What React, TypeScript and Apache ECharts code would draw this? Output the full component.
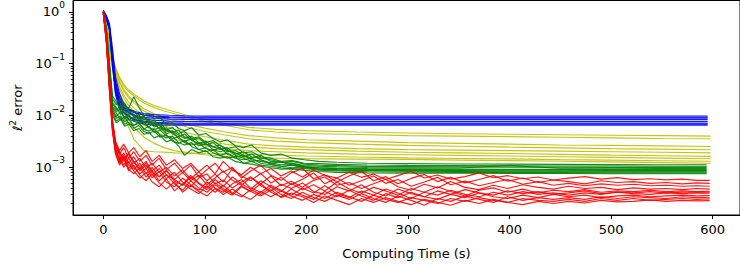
import React, { useEffect, useRef } from "react";
import * as echarts from "echarts";

// ---------- axis ticks ----------
const X_TICKS = [0, 100, 200, 300, 400, 500, 600];
const Y_MAJOR = [1e-3, 1e-2, 1e-1, 1];
const Y_MINOR = [
  2e-4, 3e-4, 4e-4, 5e-4, 6e-4, 7e-4, 8e-4, 9e-4,
  2e-3, 3e-3, 4e-3, 5e-3, 6e-3, 7e-3, 8e-3, 9e-3,
  2e-2, 3e-2, 4e-2, 5e-2, 6e-2, 7e-2, 8e-2, 9e-2,
  0.2, 0.3, 0.4, 0.5, 0.6, 0.7, 0.8, 0.9,
];

// ---------- blue runs ----------
const BLUE_T = [0, 3, 6, 9, 12, 16, 20, 26, 32, 40, 50, 65, 80, 100, 150, 250, 400, 595];
const BLUE_RUNS = [
  [1.05, 0.82, 0.55, 0.16, 0.045, 0.022, 0.016, 0.013, 0.0118, 0.0109, 0.0104, 0.0101, 0.0099, 0.0098, 0.0098, 0.0098, 0.0098, 0.0098],
  [1.0, 0.78, 0.5, 0.12, 0.035, 0.019, 0.0145, 0.0123, 0.0111, 0.0102, 0.0097, 0.0094, 0.0093, 0.0093, 0.0093, 0.0093, 0.0093, 0.0093],
  [1.08, 0.85, 0.6, 0.2, 0.055, 0.026, 0.017, 0.013, 0.0112, 0.0101, 0.0094, 0.0091, 0.009, 0.0089, 0.0089, 0.0089, 0.0089, 0.0089],
  [0.98, 0.75, 0.45, 0.1, 0.03, 0.017, 0.013, 0.0111, 0.01, 0.0092, 0.0088, 0.0085, 0.0084, 0.0083, 0.0083, 0.0083, 0.0083, 0.0083],
  [1.02, 0.8, 0.52, 0.14, 0.04, 0.02, 0.014, 0.0108, 0.0094, 0.0085, 0.0081, 0.0078, 0.0077, 0.0076, 0.0076, 0.0076, 0.0076, 0.0076],
  [1.04, 0.8, 0.5, 0.13, 0.032, 0.016, 0.0117, 0.0094, 0.0083, 0.0077, 0.0074, 0.0072, 0.0071, 0.0071, 0.0071, 0.0071, 0.0071, 0.0071],
  [1.0, 0.76, 0.48, 0.11, 0.028, 0.015, 0.0112, 0.0092, 0.0081, 0.0074, 0.0071, 0.0069, 0.0068, 0.0068, 0.0068, 0.0068, 0.0068, 0.0068],
  [0.97, 0.72, 0.44, 0.09, 0.025, 0.013, 0.0098, 0.0084, 0.0075, 0.0069, 0.0066, 0.0065, 0.0065, 0.0065, 0.0065, 0.0065, 0.0065, 0.0065],
];

// ---------- yellow runs ----------
const YELLOW_T = [0, 3, 6, 9, 12, 16, 20, 25, 30, 40, 50, 60, 70, 85, 100, 120, 143, 170, 200, 250, 300, 350, 400, 450, 500, 550, 598];
const YELLOW_RUNS = [
  [1.0, 0.6, 0.3, 0.14, 0.085, 0.055, 0.04, 0.031, 0.026, 0.019, 0.0155, 0.0135, 0.0118, 0.0098, 0.0084, 0.007, 0.0059, 0.0054, 0.0051, 0.0048, 0.0046, 0.00445, 0.00435, 0.00425, 0.00415, 0.00408, 0.004],
  [1.0, 0.55, 0.27, 0.13, 0.08, 0.051, 0.037, 0.029, 0.024, 0.0175, 0.0142, 0.0122, 0.0108, 0.009, 0.0077, 0.0064, 0.0053, 0.0048, 0.0045, 0.0043, 0.0041, 0.004, 0.0039, 0.0038, 0.0037, 0.0036, 0.00356],
  [1.0, 0.5, 0.24, 0.12, 0.072, 0.045, 0.032, 0.024, 0.019, 0.0135, 0.0108, 0.0091, 0.008, 0.0066, 0.0057, 0.0048, 0.0041, 0.0037, 0.0034, 0.0032, 0.003, 0.0029, 0.0028, 0.0027, 0.00265, 0.0026, 0.00252],
  [1.0, 0.52, 0.25, 0.115, 0.068, 0.042, 0.03, 0.022, 0.0175, 0.0122, 0.0097, 0.0081, 0.007, 0.0058, 0.0049, 0.0042, 0.00355, 0.0032, 0.003, 0.0028, 0.00265, 0.00255, 0.00245, 0.00237, 0.0023, 0.00224, 0.00218],
  [1.0, 0.48, 0.22, 0.105, 0.06, 0.036, 0.025, 0.018, 0.014, 0.0096, 0.0076, 0.0063, 0.0054, 0.0045, 0.0039, 0.0033, 0.0028, 0.0026, 0.00245, 0.0023, 0.0022, 0.00215, 0.0021, 0.00205, 0.002, 0.00195, 0.0019],
  [1.0, 0.5, 0.23, 0.1, 0.055, 0.032, 0.022, 0.0155, 0.012, 0.0082, 0.0064, 0.0053, 0.0045, 0.0037, 0.0032, 0.0028, 0.00245, 0.0023, 0.0022, 0.00205, 0.00195, 0.0019, 0.00185, 0.00178, 0.00172, 0.00167, 0.00162],
  [1.0, 0.46, 0.2, 0.09, 0.048, 0.027, 0.018, 0.0125, 0.0095, 0.0065, 0.005, 0.0041, 0.0035, 0.0029, 0.0026, 0.0023, 0.0021, 0.002, 0.0019, 0.0018, 0.00175, 0.0017, 0.00165, 0.0016, 0.00155, 0.0015, 0.00146],
  [1.0, 0.45, 0.2, 0.08, 0.035, 0.016, 0.0095, 0.006, 0.0035, 0.0021, 0.002, 0.00196, 0.0019, 0.00188, 0.00185, 0.00182, 0.0018, 0.00172, 0.00165, 0.00158, 0.00152, 0.00148, 0.00145, 0.00141, 0.00138, 0.00134, 0.00131],
  [1.0, 0.45, 0.19, 0.085, 0.042, 0.022, 0.0135, 0.0085, 0.006, 0.0038, 0.0029, 0.0024, 0.0021, 0.0019, 0.00175, 0.00163, 0.00155, 0.0015, 0.00147, 0.00144, 0.00142, 0.00138, 0.00135, 0.00131, 0.00127, 0.00123, 0.0012],
];

// ---------- green runs ----------
const GREEN_T = [0, 3, 6, 9, 13, 17, 21, 25, 30, 35, 40, 45, 50, 56, 62, 68, 74, 80, 87, 94, 101, 108, 115, 122, 130, 138, 146, 155, 165, 175, 186, 198, 212, 230, 260, 300, 350, 400, 450, 500, 550, 594];
const GREEN_RUNS = [
  [1.05, 0.5, 0.1, 0.021, 0.016, 0.022, 0.015, 0.014, 0.023, 0.0145, 0.0098, 0.011, 0.0085, 0.0092, 0.0066, 0.0072, 0.0056, 0.0051, 0.0058, 0.0042, 0.0045, 0.0036, 0.0031, 0.0034, 0.0026, 0.0024, 0.0027, 0.0019, 0.0017, 0.0018, 0.0015, 0.0014, 0.0013, 0.00125, 0.0012, 0.00118, 0.00116, 0.00115, 0.00114, 0.00113, 0.00112, 0.00112],
  [0.95, 0.42, 0.075, 0.015, 0.012, 0.0135, 0.0175, 0.011, 0.0125, 0.0088, 0.0098, 0.0074, 0.0081, 0.0062, 0.0052, 0.0059, 0.0045, 0.0049, 0.0036, 0.0039, 0.003, 0.0033, 0.0026, 0.0023, 0.0025, 0.0019, 0.002, 0.0016, 0.0015, 0.0013, 0.00135, 0.0012, 0.00118, 0.00114, 0.00111, 0.00109, 0.00108, 0.00107, 0.00106, 0.00106, 0.00105, 0.00105],
  [1.0, 0.38, 0.06, 0.013, 0.0095, 0.012, 0.0085, 0.0105, 0.0078, 0.0092, 0.0068, 0.0061, 0.0072, 0.0053, 0.0058, 0.0044, 0.0039, 0.0044, 0.0033, 0.0029, 0.0032, 0.0025, 0.0022, 0.0024, 0.0018, 0.002, 0.0016, 0.0015, 0.0014, 0.00125, 0.0013, 0.00115, 0.0011, 0.00108, 0.00104, 0.00103, 0.00102, 0.00101, 0.00101, 0.001, 0.001, 0.001],
  [0.9, 0.45, 0.09, 0.018, 0.014, 0.0105, 0.013, 0.0095, 0.0088, 0.0105, 0.0072, 0.0081, 0.006, 0.0066, 0.0048, 0.0051, 0.0042, 0.0036, 0.004, 0.003, 0.0027, 0.003, 0.0023, 0.002, 0.0021, 0.0017, 0.0015, 0.0017, 0.0013, 0.00125, 0.0012, 0.00108, 0.00105, 0.00102, 0.00099, 0.00098, 0.00097, 0.00108, 0.00096, 0.00096, 0.00095, 0.00095],
  [1.0, 0.4, 0.07, 0.012, 0.0088, 0.0098, 0.0076, 0.0085, 0.0065, 0.0071, 0.0055, 0.0062, 0.0047, 0.0052, 0.0041, 0.0036, 0.0039, 0.003, 0.0027, 0.0029, 0.0023, 0.0021, 0.0024, 0.0018, 0.0016, 0.0017, 0.0014, 0.0013, 0.00122, 0.00112, 0.00118, 0.00103, 0.00099, 0.00096, 0.00094, 0.00093, 0.00092, 0.00091, 0.00091, 0.0009, 0.0009, 0.0009],
  [0.92, 0.48, 0.11, 0.024, 0.018, 0.013, 0.016, 0.012, 0.0105, 0.0082, 0.0093, 0.0069, 0.0064, 0.0071, 0.0053, 0.0047, 0.0052, 0.0038, 0.0034, 0.0037, 0.0028, 0.0025, 0.0027, 0.0021, 0.0019, 0.0016, 0.0018, 0.0014, 0.0012, 0.00128, 0.0011, 0.00102, 0.00097, 0.00094, 0.00091, 0.0009, 0.00089, 0.00088, 0.00088, 0.00087, 0.00087, 0.00087],
  [1.0, 0.36, 0.055, 0.011, 0.0078, 0.0092, 0.0068, 0.0074, 0.0057, 0.0064, 0.0049, 0.0045, 0.005, 0.0038, 0.0042, 0.0032, 0.0029, 0.0033, 0.0025, 0.0022, 0.0024, 0.0019, 0.0017, 0.0019, 0.0015, 0.0014, 0.0015, 0.0012, 0.00112, 0.00105, 0.0011, 0.00097, 0.00093, 0.0009, 0.00088, 0.00087, 0.00086, 0.00085, 0.00085, 0.00084, 0.00084, 0.00084],
  [0.97, 0.44, 0.085, 0.017, 0.013, 0.0155, 0.011, 0.0082, 0.0095, 0.0068, 0.0076, 0.0058, 0.0053, 0.0059, 0.0044, 0.0049, 0.0036, 0.0032, 0.0035, 0.0026, 0.0029, 0.0022, 0.002, 0.0022, 0.0017, 0.0015, 0.0013, 0.0014, 0.00115, 0.00105, 0.00098, 0.00102, 0.00092, 0.00088, 0.00086, 0.00084, 0.00083, 0.00082, 0.00082, 0.00081, 0.00081, 0.00081],
  [1.0, 0.4, 0.065, 0.014, 0.011, 0.0082, 0.0095, 0.0071, 0.0064, 0.0075, 0.0054, 0.005, 0.0056, 0.0042, 0.0037, 0.004, 0.003, 0.0027, 0.003, 0.0022, 0.002, 0.0022, 0.0017, 0.0015, 0.0016, 0.0012, 0.0013, 0.0011, 0.00105, 0.00098, 0.00092, 0.00095, 0.00088, 0.00085, 0.00082, 0.00081, 0.0008, 0.00079, 0.00079, 0.00078, 0.00078, 0.00078],
  [0.93, 0.35, 0.05, 0.01, 0.0072, 0.0085, 0.0062, 0.0068, 0.0051, 0.0056, 0.0043, 0.0047, 0.0037, 0.0041, 0.0031, 0.0034, 0.0026, 0.0017, 0.0022, 0.0019, 0.0021, 0.0016, 0.0015, 0.0016, 0.0013, 0.0012, 0.00115, 0.00105, 0.00098, 0.00092, 0.00094, 0.00087, 0.00083, 0.0008, 0.00078, 0.00077, 0.00077, 0.00076, 0.00076, 0.00075, 0.00075, 0.00075],
];

// ---------- red runs ----------
const RED_T = [0, 3, 6, 9, 12, 16, 20, 25, 30, 36, 42, 48, 55, 62, 70, 78, 86, 94, 102, 110, 118, 127, 136, 145, 155, 165, 175, 185, 196, 207, 218, 230, 242, 254, 266, 278, 290, 303, 316, 329, 342, 356, 370, 384, 398, 413, 428, 443, 458, 474, 490, 506, 522, 538, 554, 570, 584, 597];
const RED_RUNS = [
  [1.0, 0.32, 0.045, 0.007, 0.0032, 0.0021, 0.0028, 0.0019, 0.0024, 0.0016, 0.0021, 0.0013, 0.0017, 0.0011, 0.0014, 9.5e-4, 0.0012, 8.2e-4, 0.0011, 7.5e-4, 0.0013, 8.8e-4, 7.2e-4, 0.001, 7.5e-4, 9.5e-4, 6.8e-4, 8.5e-4, 6.5e-4, 8.8e-4, 7e-4, 6.2e-4, 8e-4, 6.4e-4, 7.4e-4, 5.8e-4, 6.9e-4, 8.4e-4, 6.2e-4, 7.1e-4, 5.9e-4, 6.6e-4, 7.8e-4, 6.3e-4, 6.9e-4, 6e-4, 6.5e-4, 5.7e-4, 6.2e-4, 6.6e-4, 5.9e-4, 6.3e-4, 5.8e-4, 6e-4, 5.7e-4, 5.9e-4, 5.6e-4, 5.6e-4],
  [0.95, 0.28, 0.038, 0.006, 0.0026, 0.0018, 0.0024, 0.0015, 0.002, 0.0013, 0.0017, 0.0011, 0.0015, 9e-4, 0.0012, 7.8e-4, 0.0011, 6.5e-4, 9e-4, 0.0012, 8e-4, 0.001, 6.2e-4, 8.5e-4, 0.0011, 7e-4, 5.6e-4, 7.8e-4, 9.5e-4, 6e-4, 7.2e-4, 5.2e-4, 6.8e-4, 8.5e-4, 5.5e-4, 6.6e-4, 4.8e-4, 6.1e-4, 7.3e-4, 5.3e-4, 6.4e-4, 5e-4, 5.8e-4, 6.9e-4, 5.4e-4, 6.2e-4, 5.1e-4, 5.7e-4, 5.3e-4, 4.8e-4, 5.5e-4, 5.1e-4, 5.3e-4, 4.9e-4, 5.1e-4, 4.8e-4, 5e-4, 4.9e-4],
  [1.05, 0.35, 0.05, 0.008, 0.0029, 0.0019, 0.0013, 0.0018, 0.0012, 0.0015, 9.5e-4, 0.0012, 8e-4, 0.001, 6.8e-4, 9e-4, 6e-4, 8.2e-4, 5.5e-4, 7.4e-4, 5.2e-4, 9.5e-4, 6.8e-4, 5.5e-4, 7.6e-4, 5e-4, 6.4e-4, 4.6e-4, 5.9e-4, 7.8e-4, 4.8e-4, 6.2e-4, 4.5e-4, 5.5e-4, 6.8e-4, 4.9e-4, 5.8e-4, 4.3e-4, 5.2e-4, 6.4e-4, 4.6e-4, 5.4e-4, 4.4e-4, 5.1e-4, 5.8e-4, 4.7e-4, 5.3e-4, 4.5e-4, 4.9e-4, 4.4e-4, 4.8e-4, 4.5e-4, 4.7e-4, 4.4e-4, 4.5e-4, 4.3e-4, 4.4e-4, 4.3e-4],
  [0.9, 0.25, 0.03, 0.005, 0.0021, 0.0014, 0.0019, 0.0012, 0.0016, 0.001, 0.0013, 8.5e-4, 0.0011, 7.2e-4, 5.8e-4, 8e-4, 5.5e-4, 7e-4, 4.6e-4, 6.2e-4, 8.5e-4, 5.6e-4, 4.5e-4, 6.3e-4, 4.8e-4, 6.8e-4, 4.4e-4, 5.4e-4, 4.1e-4, 5.6e-4, 6.5e-4, 4.5e-4, 5.1e-4, 3.9e-4, 4.8e-4, 5.9e-4, 4.2e-4, 3.6e-4, 4.7e-4, 4e-4, 5.3e-4, 4.1e-4, 3.7e-4, 4.5e-4, 3.9e-4, 4.6e-4, 4.1e-4, 3.8e-4, 4.3e-4, 3.9e-4, 4.1e-4, 3.7e-4, 4e-4, 3.8e-4, 3.9e-4, 3.7e-4, 3.9e-4, 3.8e-4],
  [1.0, 0.3, 0.042, 0.0065, 0.0024, 0.0013, 0.0017, 0.0011, 9e-4, 0.0012, 7.5e-4, 0.001, 6.5e-4, 8.8e-4, 5.4e-4, 4.6e-4, 7e-4, 5e-4, 4e-4, 5.8e-4, 4.3e-4, 6.5e-4, 4.8e-4, 3.8e-4, 5.5e-4, 4.2e-4, 3.4e-4, 4.9e-4, 3.7e-4, 4.6e-4, 3.5e-4, 5.2e-4, 3.8e-4, 3.2e-4, 4.1e-4, 3.5e-4, 2.9e-4, 3.9e-4, 3.3e-4, 4.2e-4, 3.4e-4, 2.8e-4, 3.6e-4, 4e-4, 3.3e-4, 3.8e-4, 3.2e-4, 3.6e-4, 3.4e-4, 3.7e-4, 3.3e-4, 3.5e-4, 3.4e-4, 3.6e-4, 3.4e-4, 3.5e-4, 3.4e-4, 3.45e-4],
  [0.98, 0.27, 0.035, 0.0055, 0.0019, 0.0012, 0.0016, 9.5e-4, 0.0013, 8.5e-4, 0.0011, 7e-4, 9.5e-4, 6e-4, 8e-4, 5.2e-4, 4.2e-4, 6.2e-4, 7.5e-4, 4.8e-4, 5.7e-4, 4e-4, 5.2e-4, 6.6e-4, 4.4e-4, 3.5e-4, 4.7e-4, 3.9e-4, 5e-4, 3.4e-4, 3e-4, 4.2e-4, 3.5e-4, 4.6e-4, 3.3e-4, 2.8e-4, 3.8e-4, 3.1e-4, 2.7e-4, 3.5e-4, 3e-4, 3.7e-4, 3.2e-4, 2.9e-4, 3.5e-4, 3.1e-4, 3.4e-4, 3e-4, 3.2e-4, 3.5e-4, 3.1e-4, 3.3e-4, 3.2e-4, 3.4e-4, 3.2e-4, 3.3e-4, 3.3e-4, 3.3e-4],
  [1.02, 0.33, 0.048, 0.0075, 0.0027, 0.0017, 0.0011, 0.0015, 0.001, 7.5e-4, 9.5e-4, 6.3e-4, 8.2e-4, 5.2e-4, 4.2e-4, 6.2e-4, 4.6e-4, 3.6e-4, 5.2e-4, 4e-4, 3.3e-4, 4.8e-4, 5.8e-4, 4e-4, 3.3e-4, 4.5e-4, 3.6e-4, 2.9e-4, 4e-4, 3.2e-4, 4.4e-4, 3.1e-4, 2.6e-4, 3.5e-4, 2.9e-4, 3.8e-4, 3.2e-4, 2.5e-4, 3.3e-4, 2.9e-4, 3.6e-4, 3e-4, 2.7e-4, 3.3e-4, 2.9e-4, 3.4e-4, 3e-4, 3.2e-4, 2.9e-4, 3.2e-4, 3e-4, 3.3e-4, 3.1e-4, 3e-4, 3.2e-4, 3.1e-4, 3.2e-4, 3.15e-4],
  [0.93, 0.26, 0.032, 0.005, 0.0018, 0.0011, 0.0015, 9e-4, 7.5e-4, 0.001, 6.5e-4, 8.5e-4, 5.5e-4, 7.2e-4, 4.8e-4, 3.6e-4, 5.5e-4, 4e-4, 3.3e-4, 4.6e-4, 3.6e-4, 2.9e-4, 4.2e-4, 3.4e-4, 4.8e-4, 3.3e-4, 2.7e-4, 3.8e-4, 2.9e-4, 2.4e-4, 3.4e-4, 2.7e-4, 3.6e-4, 2.8e-4, 2.3e-4, 3.1e-4, 2.6e-4, 3.3e-4, 2.7e-4, 2.4e-4, 3e-4, 2.6e-4, 3.2e-4, 2.7e-4, 2.5e-4, 2.9e-4, 2.6e-4, 3e-4, 2.7e-4, 2.9e-4, 2.6e-4, 2.8e-4, 2.9e-4, 2.7e-4, 2.8e-4, 2.9e-4, 2.8e-4, 2.85e-4],
  [1.0, 0.29, 0.04, 0.006, 0.0022, 0.0015, 0.001, 0.0013, 8.5e-4, 6.2e-4, 8e-4, 5.2e-4, 4.2e-4, 6e-4, 3.5e-4, 4.8e-4, 3.8e-4, 3.1e-4, 4.4e-4, 3.3e-4, 4.5e-4, 3.2e-4, 2.7e-4, 3.7e-4, 3e-4, 4.1e-4, 3e-4, 2.5e-4, 3.3e-4, 2.6e-4, 2.2e-4, 2.9e-4, 2.4e-4, 3.1e-4, 2.5e-4, 2.1e-4, 2.8e-4, 2.3e-4, 1.85e-4, 2.5e-4, 2.2e-4, 2.8e-4, 2.4e-4, 2.1e-4, 2.7e-4, 2.3e-4, 2.6e-4, 2.4e-4, 2.6e-4, 2.4e-4, 2.7e-4, 2.5e-4, 2.7e-4, 2.6e-4, 2.5e-4, 2.7e-4, 2.6e-4, 2.64e-4],
  [0.96, 0.31, 0.044, 0.0068, 0.0023, 0.0012, 0.0016, 8.5e-4, 0.0011, 7e-4, 5.5e-4, 7.5e-4, 5e-4, 3.8e-4, 5.3e-4, 3.3e-4, 4.5e-4, 3.4e-4, 2.8e-4, 3.9e-4, 3e-4, 3.8e-4, 2.9e-4, 2.4e-4, 3.4e-4, 2.7e-4, 3.5e-4, 2.8e-4, 2.3e-4, 3e-4, 2.5e-4, 3.3e-4, 2.7e-4, 2.2e-4, 2.9e-4, 2.4e-4, 2.1e-4, 2.6e-4, 2.3e-4, 2e-4, 2.5e-4, 2.2e-4, 2.6e-4, 2.3e-4, 2.1e-4, 2.5e-4, 2.3e-4, 2.2e-4, 2.4e-4, 2.2e-4, 2.5e-4, 2.3e-4, 2.5e-4, 2.3e-4, 2.4e-4, 2.5e-4, 2.4e-4, 2.45e-4],
  [1.0, 0.34, 0.052, 0.0085, 0.003, 0.002, 0.0014, 0.0019, 0.0013, 9e-4, 0.0012, 8e-4, 6.6e-4, 8.5e-4, 5.9e-4, 4.5e-4, 6.5e-4, 4.8e-4, 3.7e-4, 5e-4, 3.9e-4, 3.1e-4, 4.4e-4, 3.4e-4, 2.8e-4, 3.7e-4, 2.6e-4, 3.2e-4, 2.7e-4, 2.1e-4, 2.8e-4, 2.3e-4, 1.9e-4, 2.5e-4, 2.1e-4, 2.6e-4, 2.2e-4, 1.9e-4, 2.4e-4, 2.1e-4, 1.85e-4, 2.3e-4, 2e-4, 2.4e-4, 2.1e-4, 1.9e-4, 2.2e-4, 2e-4, 2.2e-4, 2.05e-4, 2.3e-4, 2.15e-4, 2.2e-4, 2.35e-4, 2.2e-4, 2.3e-4, 2.25e-4, 2.28e-4],
];

const FONT = "DejaVu Sans";
const COLORS = { blue: "#0000ff", yellow: "#bfbf00", green: "#008000", red: "#ff0000" };

function runsToSeries(t: number[], runs: number[][], color: string, name: string) {
  return runs.map((run, k) => ({
    name: `${name}-${k}`,
    type: "line",
    data: run.map((v, i) => [t[i], v]),
    showSymbol: false,
    symbol: "none",
    silent: true,
    clip: true,
    lineStyle: { color, width: 1.15, opacity: 0.9 },
    itemStyle: { color },
  }));
}

function supLabel(v: number) {
  const e = Math.round(Math.log10(v));
  const s = e < 0 ? "\u2212" + String(-e) : String(e);
  return `{b|10}{s|${s}}`;
}

export default function App() {
  const ref = useRef<HTMLDivElement | null>(null);
  useEffect(() => {
    if (!ref.current) return;
    const chart = echarts.init(ref.current, undefined, { renderer: "svg" });
    const yMin = 1.2e-4;
    const yMax = 1.66;
    const option: any = {
      animation: false,
      grid: {
        left: 73,
        top: 0.5,
        width: 673.4,
        height: 214.5,
        show: true,
        borderColor: "#000",
        borderWidth: 1,
        backgroundColor: "transparent",
      },
      xAxis: {
        type: "value",
        min: -29.85,
        max: 626.85,
        axisLine: { show: true, onZero: false, lineStyle: { color: "#000", width: 1 } },
        axisTick: { show: true, customValues: X_TICKS, length: 4, lineStyle: { color: "#000", width: 1 } },
        axisLabel: {
          customValues: X_TICKS,
          margin: 8,
          fontSize: 13,
          fontFamily: FONT,
          color: "#000",
        },
        splitLine: { show: false },
        name: "Computing Time (s)",
        nameLocation: "middle",
        nameGap: 32,
        nameTextStyle: { fontSize: 13, fontFamily: FONT, color: "#000" },
      },
      yAxis: [
        {
          type: "log",
          logBase: 10,
          min: yMin,
          max: yMax,
          position: "left",
          axisLine: { show: true, onZero: false, lineStyle: { color: "#000", width: 1 } },
          axisTick: { show: true, customValues: Y_MAJOR, length: 4, lineStyle: { color: "#000", width: 1 } },
          axisLabel: {
            customValues: Y_MAJOR,
            margin: 8,
            padding: [0, 0, 5, 0],
            formatter: (v: number) => supLabel(v),
            rich: {
              b: { fontSize: 13, fontFamily: FONT, color: "#000", lineHeight: 18, verticalAlign: "bottom" },
              s: { fontSize: 9, fontFamily: FONT, color: "#000", lineHeight: 11, verticalAlign: "top" },
            },
          },
          splitLine: { show: false },
          minorTick: { show: false },
          name: "{l|\u2113}{s|2}{t| error}",
          nameLocation: "middle",
          nameRotate: 90,
          nameGap: 48,
          nameTextStyle: {
            rich: {
              l: { fontSize: 13, fontFamily: FONT, color: "#000", fontStyle: "italic", lineHeight: 16, verticalAlign: "bottom" },
              s: { fontSize: 9, fontFamily: FONT, color: "#000", lineHeight: 10, verticalAlign: "top" },
              t: { fontSize: 13, fontFamily: FONT, color: "#000", lineHeight: 16, verticalAlign: "bottom" },
            },
          },
        },
        {
          type: "log",
          logBase: 10,
          min: yMin,
          max: yMax,
          position: "left",
          offset: 0,
          axisLine: { show: false, onZero: false },
          axisTick: { show: true, customValues: Y_MINOR, length: 2.3, lineStyle: { color: "#000", width: 0.8 } },
          axisLabel: { show: false },
          splitLine: { show: false },
        },
      ],
      series: [
        ...runsToSeries(YELLOW_T, YELLOW_RUNS, COLORS.yellow, "yellow"),
        ...runsToSeries(BLUE_T, BLUE_RUNS, COLORS.blue, "blue"),
        ...runsToSeries(GREEN_T, GREEN_RUNS, COLORS.green, "green"),
        ...runsToSeries(RED_T, RED_RUNS, COLORS.red, "red"),
      ],
    };
    chart.setOption(option);
    return () => {
      chart.dispose();
    };
  }, []);
  return (
    <div
      ref={ref}
      style={{ position: "absolute", left: 0, top: 0, width: 740, height: 265 }}
    />
  );
}
